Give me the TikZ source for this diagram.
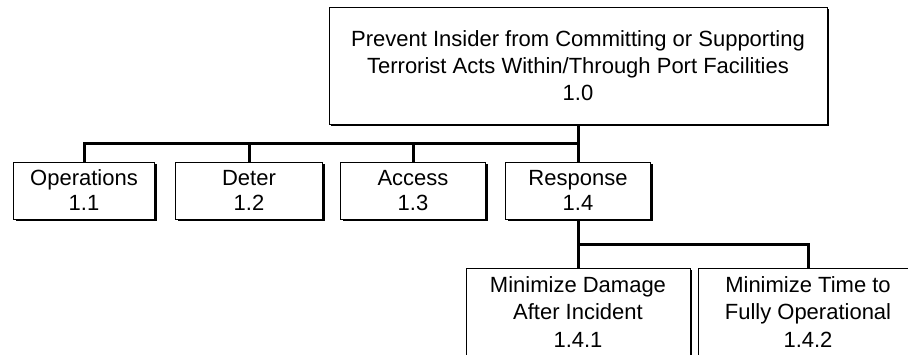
\documentclass[tikz,border=0pt]{standalone}
\usepackage{fontspec}
\setmainfont{Liberation Sans}
\usetikzlibrary{shadows}
\begin{document}
\begin{tikzpicture}[x=0.75pt,y=-0.75pt,
  box/.style={draw=black, line width=0.75pt, fill=white, inner sep=0pt,
    align=center, font=\fontsize{16.5}{20.5}\selectfont,
    drop shadow={shadow xshift=1.5pt, shadow yshift=-1.5pt, fill=black, opacity=1}},
  midbox/.style={box, minimum height=42.75pt, font=\fontsize{16.5}{18.75}\selectfont},
  link/.style={draw=black, line width=2.25pt}]
\clip (0,0) rectangle (908,354);
\fill[white] (0,0) rectangle (908,354);
% top goal
\node[box, minimum width=373.5pt, minimum height=87.75pt] (top) at (578,65.5)
  {Prevent Insider from Committing or Supporting\\Terrorist Acts Within/Through Port Facilities\\1.0};
% second level
\node[midbox, minimum width=105.75pt] (ops) at (84,190.5) {Operations\\1.1};
\node[midbox, minimum width=110.25pt] (deter) at (249,190.5) {Deter\\1.2};
\node[midbox, minimum width=108.75pt] (access) at (413,190.5) {Access\\1.3};
\node[midbox, minimum width=108.75pt] (resp) at (578,190.5) {Response\\1.4};
% third level
\node[box, minimum width=168pt, minimum height=66pt] (dmg) at (578,312)
  {Minimize Damage\\After Incident\\1.4.1};
\node[box, minimum width=165pt, minimum height=66pt] (time) at (808,312)
  {Minimize Time to\\Fully Operational\\1.4.2};
% connectors
\coordinate (bus) at (578,143);
\coordinate (bus2) at (578,244);
\draw[link] (top.south) -- (resp.north);
\draw[link] (ops.north) |- (bus);
\draw[link] (deter.north) -- (deter.north |- bus);
\draw[link] (access.north) -- (access.north |- bus);
\draw[link] (resp.south) -- (dmg.north);
\draw[link] (time.north) |- (bus2);
\end{tikzpicture}
\end{document}
